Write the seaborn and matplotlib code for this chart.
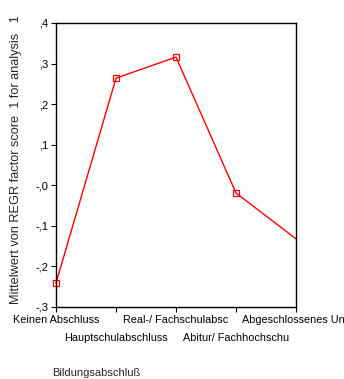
import pandas as pd
import matplotlib
matplotlib.use("Agg")
import matplotlib.pyplot as plt
import seaborn as sns

# Bildungsabschluss categories and mean factor scores
categories = ["Keinen Abschluss", "Hauptschulabschluss", "Real-/ Fachschulabsc",
              "Abitur/ Fachhochschu", "Abgeschlossenes Uni-"]
means = [-0.241, 0.264, 0.316, -0.019, -0.132]
yticks = [-0.3, -0.2, -0.1, 0.0, 0.1, 0.2, 0.3, 0.4]
ytick_labels = ["-,3", "-,2", "-,1", "-,0", ",1", ",2", ",3", ",4"]

df = pd.DataFrame({"pos": range(len(categories)), "mean": means})

sns.set_style("ticks")
plt.rcParams['font.family'] = ['Liberation Sans', 'DejaVu Sans']

fig = plt.figure(figsize=(3.44, 3.79), dpi=100)
ax = fig.add_axes([56 / 344, 1 - 307 / 379, 240 / 344, 284 / 379])

sns.lineplot(data=df, x="pos", y="mean", sort=False, color="red", lw=1,
             marker="s", markersize=5, markerfacecolor="none",
             markeredgecolor="red", markeredgewidth=0.9,
             markevery=[0, 1, 2, 3], clip_on=False, ax=ax)

ax.set_xlim(0, 4)
ax.set_ylim(-0.3, 0.4)
ax.set_yticks(yticks)
ax.set_yticklabels(ytick_labels, fontsize=8)

# staggered category labels: even ones on major ticks, odd ones on minor ticks
even = list(range(0, len(categories), 2))
odd = list(range(1, len(categories), 2))
ax.set_xticks(even)
ax.set_xticklabels([categories[i] for i in even], fontsize=7.8)
ax.set_xticks(odd, minor=True)
ax.set_xticklabels([categories[i] for i in odd], minor=True, fontsize=7.8)

for s in ax.spines.values():
    s.set_visible(True)
    s.set_color("black")
    s.set_linewidth(1)
ax.tick_params(which="both", direction="out", length=3.5, width=0.8, colors="black", pad=2)
ax.tick_params(axis="x", which="minor", pad=15)

ax.set_ylabel("Mittelwert von REGR factor score  1 for analysis   1", fontsize=9.2)
ax.yaxis.set_label_coords(-0.14, 0.52)
ax.set_xlabel("Bildungsabschluß", fontsize=8, ha="left")
ax.xaxis.set_label_coords(-0.015, -0.215)

fig.savefig("out.png", dpi=100)
plt.close(fig)
